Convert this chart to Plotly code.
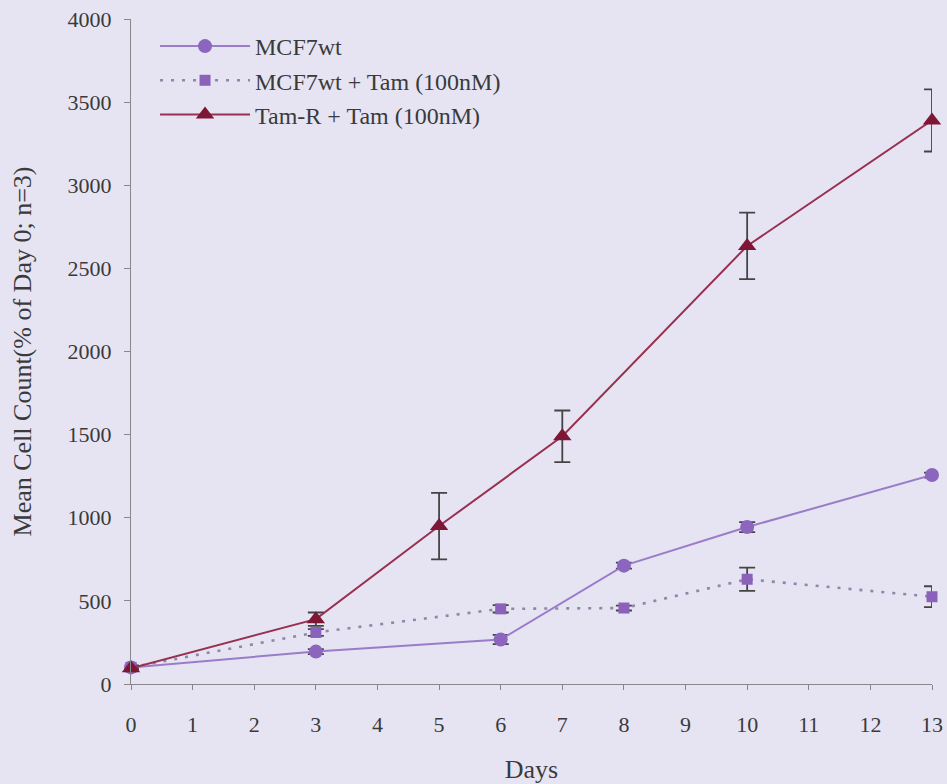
import plotly.graph_objects as go

# Data
days_wt = [0, 3, 6, 8, 10, 13]
mcf7wt = [100, 195, 268, 712, 944, 1257]
mcf7wt_err = [10, 15, 28, 18, 30, 15]

days_wt_tam = [0, 3, 6, 8, 10, 13]
mcf7wt_tam = [100, 310, 452, 457, 630, 525]
mcf7wt_tam_err = [10, 20, 22, 15, 70, 63]

days_tamr = [0, 3, 5, 7, 10, 13]
tamr_tam = [95, 390, 950, 1490, 2635, 3390]
tamr_tam_err = [10, 40, 200, 155, 200, 187]

x_ticks = list(range(0, 14))
y_ticks = [0, 500, 1000, 1500, 2000, 2500, 3000, 3500, 4000]

BG = "#E6E4F3"
TXT = "#3a3a3a"
FONT = "Liberation Serif"
ERR = dict(type="data", visible=True, color="#444444", thickness=1.8, width=8)

fig = go.Figure()
fig.add_trace(go.Scatter(
    x=days_wt, y=mcf7wt, name="MCF7wt", mode="lines+markers",
    line=dict(color="#9A7CC8", width=2),
    marker=dict(symbol="circle", size=14, color="#8C66BE"),
    error_y=dict(array=mcf7wt_err, **ERR), cliponaxis=False))
fig.add_trace(go.Scatter(
    x=days_wt_tam, y=mcf7wt_tam, name="MCF7wt + Tam (100nM)", mode="lines+markers",
    line=dict(color="#8F86A8", width=2.6, dash="3px,8px"),
    marker=dict(symbol="square", size=11, color="#8A62BA"),
    error_y=dict(array=mcf7wt_tam_err, **ERR), cliponaxis=False))
fig.add_trace(go.Scatter(
    x=days_tamr, y=tamr_tam, name="Tam-R + Tam (100nM)", mode="lines+markers",
    line=dict(color="#983050", width=2),
    marker=dict(symbol="triangle-up", size=16, color="#7E1636"),
    error_y=dict(array=tamr_tam_err, **ERR), cliponaxis=False))

fig.update_layout(
    width=947, height=784,
    paper_bgcolor=BG, plot_bgcolor=BG,
    margin=dict(l=131, r=15, t=19, b=100),
    font=dict(family=FONT, size=22, color=TXT),
    showlegend=True,
    legend=dict(x=0.03, y=0.9925, xanchor="left", yanchor="top",
                bgcolor="rgba(0,0,0,0)", itemwidth=90,
                font=dict(family=FONT, size=24, color=TXT),
                tracegroupgap=0),
    xaxis=dict(range=[0, 13], tickvals=x_ticks, ticktext=[str(v) for v in x_ticks],
               showgrid=False, zeroline=False, showline=True, linecolor="#888888",
               linewidth=1, ticks="outside", ticklen=5, tickcolor="#888888",
               tickfont=dict(size=22), automargin=False,
               title=dict(text="Days", standoff=24, font=dict(size=26)),
               ticklabelstandoff=16),
    yaxis=dict(range=[0, 4000], tickvals=y_ticks,
               showgrid=False, zeroline=False, showline=True, linecolor="#888888",
               linewidth=1, ticks="outside", ticklen=6, tickcolor="#888888",
               tickfont=dict(size=22), automargin=False,
               title=dict(text="Mean Cell Count(% of Day 0; n=3)", standoff=28,
                          font=dict(size=26)),
               ticklabelstandoff=8),
)

fig.write_html("out.html")
